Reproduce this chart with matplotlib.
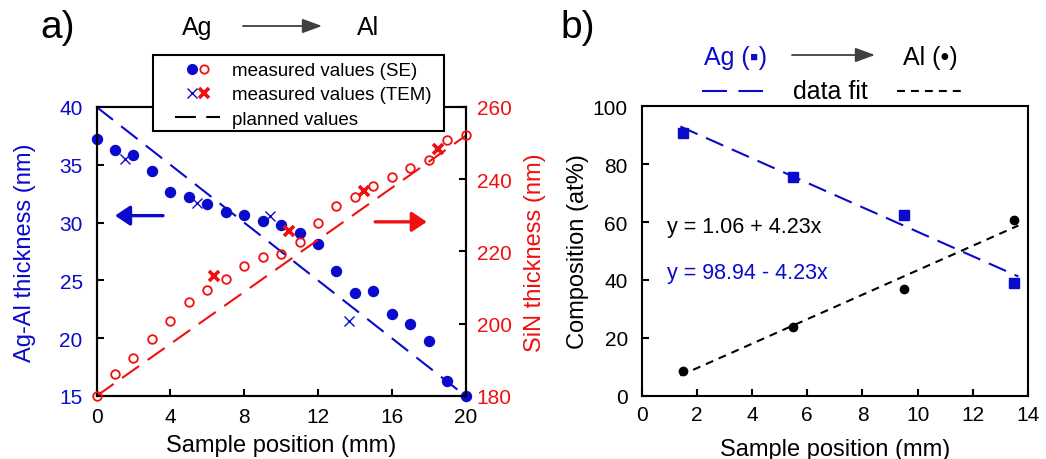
import matplotlib
matplotlib.use("Agg")
import matplotlib.pyplot as plt
from matplotlib.lines import Line2D
from matplotlib.patches import Rectangle, FancyArrowPatch
from matplotlib.legend_handler import HandlerTuple

plt.rcParams['font.family'] = ['Liberation Sans', 'DejaVu Sans']

BLUE = '#0A0ACD'
RED = '#F01010'

# panel a) - thickness gradient
pos_se = [0, 1, 2, 3, 4, 5, 6, 7, 8, 9, 10, 11, 12, 13, 14, 15, 16, 17, 18, 19, 20]
agal_se = [37.2, 36.3, 35.85, 34.45, 32.65, 32.25, 31.6, 30.9, 30.65, 30.1, 29.8,
           29.1, 28.15, 25.8, 23.9, 24.05, 22.1, 21.2, 19.75, 16.3, 15.0]
sin_se = [180.0, 186.2, 190.6, 195.7, 200.7, 206.1, 209.4, 212.4, 215.9, 218.4, 219.3,
          222.7, 227.8, 232.5, 235.0, 238.2, 240.6, 243.0, 245.4, 250.9, 252.3]

pos_tem_agal = [1.54, 5.43, 9.39, 13.67]
agal_tem = [35.5, 31.7, 30.6, 21.5]
pos_tem_sin = [6.37, 10.45, 14.51, 18.49]
sin_tem = [213.3, 225.8, 236.8, 248.4]

pos_planned = [0, 20]
agal_planned = [40, 15]
sin_planned = [180, 252]

# panel b) - composition
pos_comp = [1.5, 5.5, 9.5, 13.5]
ag_comp = [90.8, 75.5, 62.4, 38.9]
al_comp = [8.7, 23.8, 36.9, 60.7]
fit_x = [1.4, 13.65]
ag_fit = (98.94, -4.23)
al_fit = (1.06, 4.23)

W, H = 1046, 460


def fx(px):
    return px / W


def fy(py):
    return 1 - py / H


fig = plt.figure(figsize=(10.46, 4.6), dpi=100)

# ---------------- panel a ----------------
ax = fig.add_axes([0.0923, 0.137, 0.3528, 0.6283])
ax2 = ax.twinx()

ax.plot(pos_planned, agal_planned, color=BLUE, lw=1.5, dashes=(10, 5), zorder=2)
ax2.plot(pos_planned, sin_planned, color=RED, lw=1.5, dashes=(10, 5), zorder=2)

ax.plot(pos_se, agal_se, 'o', color=BLUE, ms=7.2, mec=BLUE, clip_on=False, zorder=3)
ax.plot(pos_tem_agal, agal_tem, 'x', color=BLUE, ms=7, mew=1.0, clip_on=False, zorder=3)
ax2.plot(pos_se, sin_se, 'o', mfc='none', mec=RED, ms=6.2, mew=1.3, clip_on=False, zorder=3)
ax2.plot(pos_tem_sin, sin_tem, 'x', color=RED, ms=6.5, mew=2.6, clip_on=False, zorder=3)

ax.set_xlim(0, 20)
ax.set_ylim(15, 40)
ax2.set_ylim(180, 260)
ax.set_xticks([0, 4, 8, 12, 16, 20])
ax.set_yticks([15, 20, 25, 30, 35, 40])
ax2.set_yticks([180, 200, 220, 240, 260])

ax.annotate('', xy=(1.0, 30.6), xytext=(3.6, 30.6),
            arrowprops=dict(arrowstyle='-|>,head_length=0.45,head_width=0.3',
                            color=BLUE, lw=2.4, mutation_scale=20, shrinkA=0, shrinkB=0))
ax2.annotate('', xy=(17.9, 228.2), xytext=(15.1, 228.2),
             arrowprops=dict(arrowstyle='-|>,head_length=0.45,head_width=0.3',
                             color=RED, lw=2.4, mutation_scale=20, shrinkA=0, shrinkB=0))

for a in (ax, ax2):
    for s in a.spines.values():
        s.set_linewidth(1.5)
ax.tick_params(axis='both', direction='in', length=5, width=1.5, labelsize=15, pad=8,
               right=False, top=False)
ax.tick_params(axis='y', labelcolor=BLUE, pad=10)
ax2.tick_params(axis='y', direction='in', length=5, width=1.5, labelsize=15,
                labelcolor=RED, pad=8)

ax.set_xlabel('Sample position (mm)', fontsize=17, labelpad=6)
ax.set_ylabel('Ag-Al thickness (nm)', fontsize=17, color=BLUE, labelpad=17)
ax2.set_ylabel('SiN thickness (nm)', fontsize=17, color=RED, labelpad=9)

# legend box drawn by hand so the padding matches
fig.add_artist(Rectangle((fx(153), fy(132)), fx(444) - fx(153), fy(56) - fy(132),
                         transform=fig.transFigure, facecolor='white', edgecolor='k',
                         lw=1.5, zorder=4))
h_se = (Line2D([], [], ls='none', marker='o', color=BLUE, ms=7),
        Line2D([], [], ls='none', marker='o', mfc='none', mec=RED, ms=6, mew=1.3))
h_tem = (Line2D([], [], ls='none', marker='x', color=BLUE, ms=7, mew=1.0),
         Line2D([], [], ls='none', marker='x', color=RED, ms=6.5, mew=2.6))
h_plan = Line2D([], [], color='k', lw=1.5, dashes=(10, 5))
leg = fig.legend([h_se, h_tem, h_plan],
                 ['measured values (SE)', 'measured values (TEM)', 'planned values'],
                 loc='upper left', bbox_to_anchor=(fx(175), fy(63)),
                 handler_map={tuple: HandlerTuple(ndivide=None, pad=-1.12)},
                 fontsize=13.5, handlelength=2.4, handletextpad=0.64, labelspacing=0.38,
                 borderpad=0, borderaxespad=0, frameon=False)
leg.set_zorder(5)

fig.text(fx(40), fy(28), 'a)', fontsize=28, va='center', ha='left')
fig.text(fx(197), fy(28), 'Ag', fontsize=18, va='center', ha='center')
fig.text(fx(368), fy(28), 'Al', fontsize=18, va='center', ha='center')
fig.add_artist(FancyArrowPatch(
    (fx(243), fy(27)), (fx(322), fy(27)), transform=fig.transFigure,
    arrowstyle='-|>,head_length=0.6,head_width=0.22', mutation_scale=20,
    color='#404040', lw=1.3, shrinkA=0, shrinkB=0))

# ---------------- panel b ----------------
bx = fig.add_axes([0.6135, 0.1376, 0.3693, 0.6291])

ag_line = [ag_fit[0] + ag_fit[1] * x for x in fit_x]
al_line = [al_fit[0] + al_fit[1] * x for x in fit_x]
bx.plot(fit_x, ag_line, color=BLUE, lw=1.5, dashes=(9, 4.5), zorder=2)
bx.plot(fit_x, al_line, color='k', lw=1.5, dashes=(3.8, 2.9), zorder=2)
bx.plot(pos_comp, ag_comp, 's', color=BLUE, ms=7, zorder=3)
bx.plot(pos_comp, al_comp, 'o', color='k', ms=6, zorder=3)

bx.set_xlim(0, 14)
bx.set_ylim(0, 100)
bx.set_xticks(range(0, 15, 2))
bx.set_yticks(range(0, 101, 20))
for s in bx.spines.values():
    s.set_linewidth(1.5)
bx.tick_params(axis='both', direction='in', length=5, width=1.5, labelsize=15, pad=7)
bx.tick_params(axis='y', pad=10)
bx.set_xlabel('Sample position (mm)', fontsize=17, labelpad=9.5)
bx.set_ylabel('Composition (at%)', fontsize=17, labelpad=3)

bx.text(0.92, 58.3, 'y = 1.06 + 4.23x', fontsize=15.5, va='center', ha='left')
bx.text(0.92, 42.7, 'y = 98.94 - 4.23x', fontsize=15.5, va='center', ha='left', color=BLUE)

fig.text(fx(560), fy(28), 'b)', fontsize=28, va='center', ha='left')
fig.text(fx(736), fy(58), 'Ag (▪)', fontsize=18, va='center', ha='center', color=BLUE)
fig.text(fx(930), fy(58), 'Al (•)', fontsize=18, va='center', ha='center')
fig.add_artist(FancyArrowPatch(
    (fx(792), fy(56)), (fx(875), fy(56)), transform=fig.transFigure,
    arrowstyle='-|>,head_length=0.6,head_width=0.22', mutation_scale=20,
    color='#404040', lw=1.3, shrinkA=0, shrinkB=0))
fig.add_artist(Line2D([fx(702), fx(763)], [fy(92), fy(92)],
                      transform=fig.transFigure, color=BLUE, lw=1.5, dashes=(12, 5.5)))
fig.text(fx(830), fy(92), 'data fit', fontsize=18, va='center', ha='center')
fig.add_artist(Line2D([fx(897), fx(965)], [fy(92), fy(92)],
                      transform=fig.transFigure, color='k', lw=1.5, dashes=(3.8, 2.9)))

fig.savefig('out.png', dpi=100)
